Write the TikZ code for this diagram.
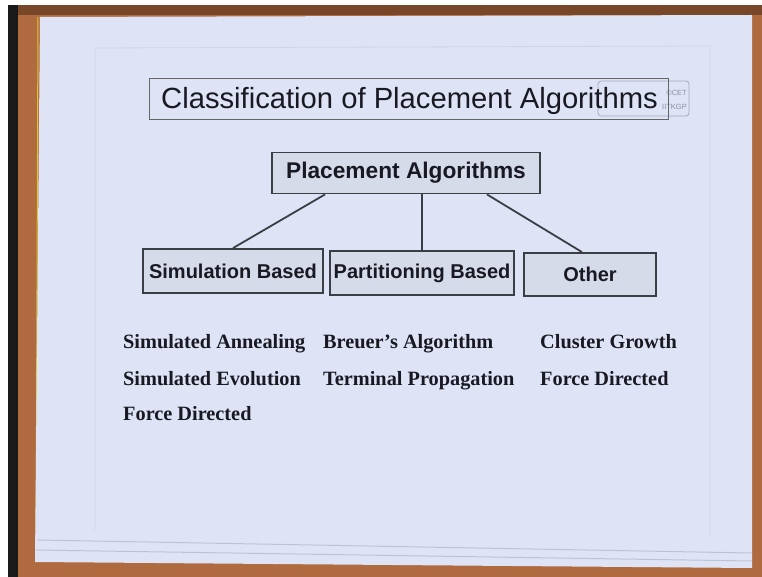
\documentclass[tikz,border=0pt]{standalone}
\usepackage{fontspec}
\setmainfont{Liberation Serif}
\newfontfamily\arialf{Liberation Sans}
\usetikzlibrary{calc}
\definecolor{paper}{RGB}{222,228,245}
\definecolor{paperedge}{RGB}{200,207,225}
\definecolor{boxfill}{RGB}{214,219,234}
\definecolor{wood}{RGB}{176,106,63}
\definecolor{wooddark}{RGB}{120,70,40}
\definecolor{ink}{RGB}{25,25,35}
\definecolor{boxline}{RGB}{60,62,70}
\definecolor{logogray}{RGB}{140,145,165}
\tikzset{
  catbox/.style={draw=boxline, line width=1.8pt, fill=boxfill, inner sep=0pt,
    font=\arialf\bfseries\fontsize{20}{22}\selectfont, text=ink},
  link/.style={draw=boxline, line width=1.8pt},
  item/.style={anchor=base west, inner sep=0pt, text=ink,
    font=\bfseries\fontsize{20.3}{22}\selectfont},
  logotext/.style={text=logogray, inner sep=0pt, font=\arialf\fontsize{7.5}{8}\selectfont}
}
\begin{document}
\begin{tikzpicture}[x=1pt,y=-1pt]
\useasboundingbox (0,0) rectangle (762,577);
% surroundings
\fill[white] (0,0) rectangle (762,577);
\fill[wood] (8,5) rectangle (762,577);
\fill[black!90] (8,5) rectangle (18,577);
\fill[wooddark] (18,5) rectangle (762,15);
\draw[yellow!60!wood, line width=1pt] (38,17) -- (36,562);
% paper stack
\fill[paper] (40,17) -- (752,15) -- (752,568) -- (35,562) -- cycle;
\draw[paperedge!85!gray, line width=1pt] (38,540) -- (752,553);
\draw[paperedge!85!gray, line width=1pt] (36,550) -- (752,561);
% faint page margin lines
\draw[paperedge!70!paper, line width=0.8pt] (95,530) -- (95,48) -- (710,46) -- (710,535);
% title
\node[draw=logogray!70!paper, line width=0.8pt, rounded corners=3pt, minimum width=91, minimum height=35, inner sep=0pt] (logo) at (643.5,98.5) {};
\node[logotext, anchor=south east] (logoa) at (687,96) {\textcopyright CET};
\node[logotext, anchor=south east] (logob) at (687,110) {IITKGP};
\node[draw=gray!80!black, line width=0.8pt, minimum width=519, minimum height=41, inner sep=0pt] (titlebox) at (408.5,98.5) {};
\node[anchor=base west, inner sep=0pt, text=ink, font=\arialf\fontsize{29.2}{32}\selectfont] (title) at (161,109) {Classification of Placement Algorithms};
% tree
\node[catbox, minimum width=268, minimum height=41, font=\arialf\bfseries\fontsize{22.7}{25}\selectfont] (pa) at (406,173) {Placement Algorithms};
\node[catbox, minimum width=180, minimum height=44] (sim) at (233,271) {Simulation Based};
\node[catbox, minimum width=184, minimum height=44] (part) at (422,273) {Partitioning Based};
\node[catbox, minimum width=132, minimum height=43] (oth) at (590,274.5) {Other};
\draw[link] ($(pa.south west)!0.2!(pa.south east)$) -- (sim.north);
\draw[link] (part.north |- pa.south) -- (part.north);
\draw[link] ($(pa.south west)!0.8!(pa.south east)$) -- ($(oth.north)+(-8,0)$);
% lists
\node[item] (s1) at (123,348) {Simulated Annealing};
\node[item] (s2) at (123,385) {Simulated Evolution};
\node[item] (s3) at (123,420) {Force Directed};
\node[item] (p1) at (323,348) {Breuer’s Algorithm};
\node[item] (p2) at (323,385) {Terminal Propagation};
\node[item] (o1) at (540,348) {Cluster Growth};
\node[item] (o2) at (540,385) {Force Directed};
\end{tikzpicture}
\end{document}
